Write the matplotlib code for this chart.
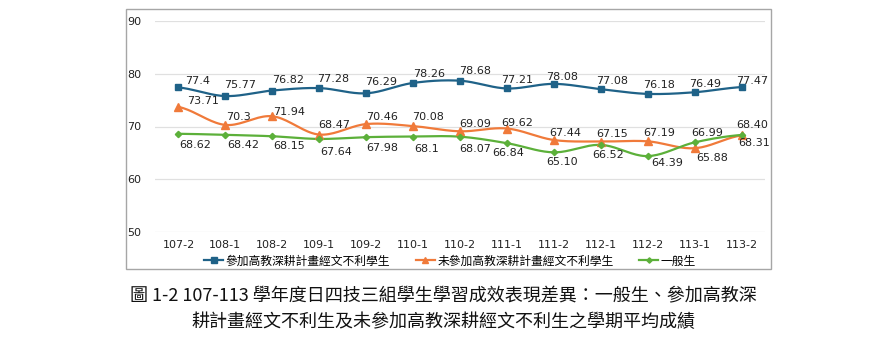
import numpy as np
import matplotlib
matplotlib.use('Agg')
import matplotlib.pyplot as plt
from matplotlib.patches import Rectangle

plt.rcParams['font.family'] = ['DejaVu Sans', 'Noto Sans CJK TC']

# semesters and average scores
terms = ['107-2', '108-1', '108-2', '109-1', '109-2', '110-1', '110-2',
         '111-1', '111-2', '112-1', '112-2', '113-1', '113-2']
joined = [77.4, 75.77, 76.82, 77.28, 76.29, 78.26, 78.68,
          77.21, 78.08, 77.08, 76.18, 76.49, 77.47]
not_joined = [73.71, 70.3, 71.94, 68.47, 70.46, 70.08, 69.09,
              69.62, 67.44, 67.15, 67.19, 65.88, 68.31]
general = [68.62, 68.42, 68.15, 67.64, 67.98, 68.1, 68.07,
           66.84, 65.10, 66.52, 64.39, 66.99, 68.40]
joined_txt = ['77.4', '75.77', '76.82', '77.28', '76.29', '78.26', '78.68',
              '77.21', '78.08', '77.08', '76.18', '76.49', '77.47']
not_joined_txt = ['73.71', '70.3', '71.94', '68.47', '70.46', '70.08', '69.09',
                  '69.62', '67.44', '67.15', '67.19', '65.88', '68.31']
general_txt = ['68.62', '68.42', '68.15', '67.64', '67.98', '68.1', '68.07',
               '66.84', '65.10', '66.52', '64.39', '66.99', '68.40']
legend_names = ['參加高教深耕計畫經文不利學生', '未參加高教深耕計畫經文不利學生', '一般生']
caption = ['圖 1-2 107-113 學年度日四技三組學生學習成效表現差異：一般生、參加高教深',
           '耕計畫經文不利生及未參加高教深耕經文不利生之學期平均成績']

# label offsets in pixels (dx, dy), dy positive = up
joined_off = [(19, 6), (15, 11), (16, 11), (14, 9), (15, 11), (16, 9), (15, 10),
              (10, 8), (8, 7), (11, 8), (11, 9), (10, 8), (11, 6)]
not_joined_off = [(25, 6), (13, 8), (17, 4), (15, 10), (16, 7), (15, 9), (15, 7),
                  (10, 6), (11, 7), (11, 8), (11, 8), (18, -10), (13, -8)]
general_off = [(17, -11), (18, -10), (17, -10), (17, -13), (16, -11), (14, -12), (15, -12),
               (1, -10), (8, -10), (7, -10), (19, -7), (13, 9), (11, 10)]


def smooth(y, n=20, t=0.5):
    # Catmull-Rom style curve through the points
    x = np.arange(len(y), dtype=float)
    y = np.asarray(y, dtype=float)
    xs, ys = [], []
    for i in range(len(y) - 1):
        x0, x1 = x[i], x[i + 1]
        y0, y1 = y[i], y[i + 1]
        ym = y[i - 1] if i > 0 else y0
        yp = y[i + 2] if i + 2 < len(y) else y1
        m0 = t * (y1 - ym) if i > 0 else (y1 - y0) * 0.5
        m1 = t * (yp - y0) if i + 2 < len(y) else (y1 - y0) * 0.5
        s = np.linspace(0, 1, n, endpoint=False)
        h00 = 2 * s**3 - 3 * s**2 + 1
        h10 = s**3 - 2 * s**2 + s
        h01 = -2 * s**3 + 3 * s**2
        h11 = s**3 - s**2
        xs.append(x0 + s * (x1 - x0))
        ys.append(h00 * y0 + h10 * m0 + h01 * y1 + h11 * m1)
    xs.append([x[-1]])
    ys.append([y[-1]])
    return np.concatenate(xs), np.concatenate(ys)


fig = plt.figure(figsize=(8.92, 3.4), dpi=100)
ax = fig.add_axes([155 / 892, 1 - 232 / 340, 610 / 892, 211 / 340])

blue, orange, green = '#1f6288', '#f07a3a', '#5cb03a'
series = [
    (joined, joined_txt, joined_off, blue, 's', 4.6),
    (not_joined, not_joined_txt, not_joined_off, orange, '^', 5.5),
    (general, general_txt, general_off, green, 'D', 3.2),
]
x = np.arange(len(terms))
for (vals, txt, off, c, m, ms), name in zip(series, legend_names):
    sx, sy = smooth(vals)
    ax.plot(sx, sy, color=c, lw=1.6, zorder=3)
    ax.plot(x, vals, ls='none', marker=m, ms=ms, color=c, zorder=4)
    ax.plot([], [], color=c, lw=1.6, marker=m, ms=ms * 0.85, label=name)
    for xi, v, t, (dx, dy) in zip(x, vals, txt, off):
        ax.annotate(t, (xi, v), xytext=(dx * 0.72, dy * 0.72), textcoords='offset points',
                    ha='center', va='center', fontsize=8, color='#222222', zorder=5)

ax.set_xlim(-0.5, 12.5)
ax.set_ylim(50, 90)
ax.set_yticks([50, 60, 70, 80, 90])
ax.set_xticks(x)
ax.set_xticklabels(terms)
ax.tick_params(length=0, labelsize=8, colors='#222222')
ax.tick_params(axis='y', pad=10)
ax.tick_params(axis='x', pad=6)
ax.grid(axis='y', color='#e0e0e0', lw=0.9)
ax.set_axisbelow(True)
for sp in ax.spines.values():
    sp.set_visible(False)

fig.legend(loc='center', bbox_to_anchor=(450 / 892, 1 - 261 / 340), ncol=3, frameon=False,
           prop={'family': ['Noto Sans CJK TC'], 'size': 8.5}, handlelength=1.6,
           columnspacing=2.2, handletextpad=0.2)

# outer chart frame
fig.patches.append(Rectangle((126 / 892, 1 - 269 / 340), 645 / 892, 260 / 340,
                             transform=fig.transFigure, fill=False,
                             edgecolor='#a6a6a6', lw=1))

fig.text(443 / 892, 1 - 296 / 340, caption[0], ha='center', va='center',
         fontsize=13, family=['Noto Sans CJK TC'], color='#111111')
fig.text(443 / 892, 1 - 322 / 340, caption[1], ha='center', va='center',
         fontsize=13, family=['Noto Sans CJK TC'], color='#111111')

fig.savefig('out.png', dpi=100)
